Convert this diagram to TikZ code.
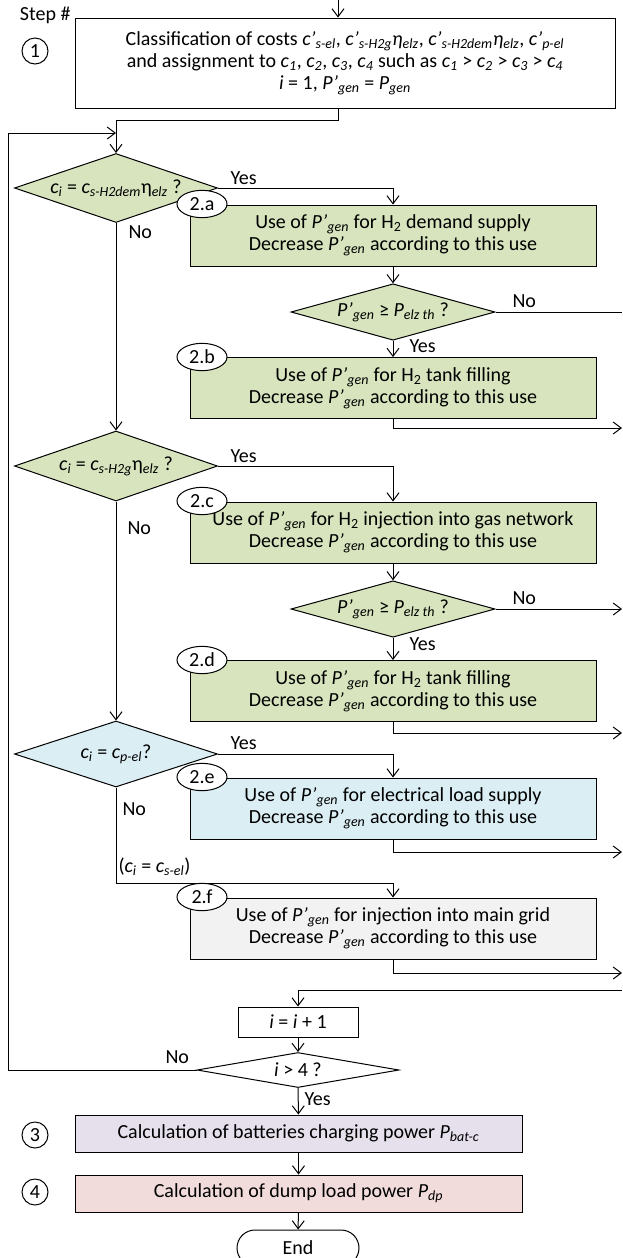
\documentclass[tikz,border=0pt]{standalone}
\usepackage{fontspec}
\setmainfont{Carlito}
\usetikzlibrary{arrows.meta,shapes.geometric,shapes.misc}

\definecolor{greenfill}{RGB}{215,228,189}
\definecolor{bluefill}{RGB}{219,238,244}
\definecolor{greyfill}{RGB}{242,242,242}
\definecolor{lilacfill}{RGB}{229,224,236}
\definecolor{pinkfill}{RGB}{242,220,219}

\newcommand{\Pg}{\textit{P’}\textsubscript{\textit{gen}}}
\newcommand{\vsub}[2]{\textit{#1}\textsubscript{\textit{#2}}}

\tikzset{every picture/.style={line width=0.75pt}}
\tikzset{
  procbox/.style={draw, rectangle, inner sep=0pt, align=center},
  usebox/.style={procbox, minimum width=304.5pt, minimum height=45.75pt},
  testdia/.style={draw, diamond, aspect=3, inner sep=0pt, align=center},
  substep/.style={draw, ellipse, fill=white, minimum width=37.5pt, minimum height=20.5pt, inner sep=0pt},
  stepnum/.style={draw, circle, minimum size=19.5pt, inner sep=0pt},
  lbl/.style={inner sep=0.75pt},
  arr/.style={-{Straight Barb[length=6pt,width=9pt]}},
}

\begin{document}
\begin{tikzpicture}[x=0.75pt,y=0.75pt,yscale=-1,xscale=1,font=\fontsize{15}{16.5}\selectfont]
\useasboundingbox (0,0) rectangle (622,1258);
\clip (0,0) rectangle (622,1258);

% Step 1
\node [lbl, anchor=east] (stephdr) at (72,15) {Step \#};
\node [procbox, minimum width=405pt, minimum height=67.5pt] (init) at (345,63)
  {Classification of costs \vsub{c’}{s-el}, \vsub{c’}{s-H2g}\vsub{η}{elz}, \vsub{c’}{s-H2dem}\vsub{η}{elz}, \vsub{c’}{p-el}\\
   and assignment to \vsub{c}{1}, \vsub{c}{2}, \vsub{c}{3}, \vsub{c}{4} such as \vsub{c}{1} > \vsub{c}{2} > \vsub{c}{3} > \vsub{c}{4}\\
   \textit{i} = 1, \Pg{} = \vsub{P}{gen}};
\node [stepnum] (s1) at (35,51) {1};
\coordinate (start) at (338,0);
\coordinate (merge) at (116,120);
\coordinate (loopc) at (8,133);

% Test H2 demand
\node [testdia, fill=greenfill, minimum width=152.25pt, minimum height=51.75pt] (dtest1) at (116,188)
  {\vsub{c}{i} = \vsub{c}{s-H2dem}η\textsubscript{\textit{elz}} ?};
\node [usebox, fill=greenfill] (u2a) at (393,235.5)
  {Use of \Pg{} for H\textsubscript{2} demand supply\\Decrease \Pg{} according to this use};
\node [substep] (e2a) at (202,204) {2.a};
\node [testdia, fill=greenfill, minimum width=153pt, minimum height=37.5pt] (dthA) at (393,312)
  {\Pg{} ≥ \vsub{P}{elz th} ?};
\node [usebox, fill=greenfill] (u2b) at (393,388)
  {Use of \Pg{} for H\textsubscript{2} tank filling\\Decrease \Pg{} according to this use};
\node [substep] (e2b) at (202,357) {2.b};
\coordinate (outA) at (622,312);
\coordinate (outB) at (622,428);

% Test H2 gas network
\node [testdia, fill=greenfill, minimum width=152.25pt, minimum height=52.5pt] (dtest2) at (116,466)
  {\vsub{c}{i} = \vsub{c}{s-H2g}η\textsubscript{\textit{elz}} ?};
\node [usebox, fill=greenfill] (u2c) at (393,532.5)
  {Use of \Pg{} for H\textsubscript{2} injection into gas network\\Decrease \Pg{} according to this use};
\node [substep] (e2c) at (202,501) {2.c};
\node [testdia, fill=greenfill, minimum width=153pt, minimum height=39pt] (dthC) at (393,609)
  {\Pg{} ≥ \vsub{P}{elz th} ?};
\node [usebox, fill=greenfill] (u2d) at (393,691)
  {Use of \Pg{} for H\textsubscript{2} tank filling\\Decrease \Pg{} according to this use};
\node [substep] (e2d) at (202,660) {2.d};
\coordinate (outC) at (622,609);
\coordinate (outD) at (622,733);

% Test electrical load
\node [testdia, fill=bluefill, minimum width=152.25pt, minimum height=49.5pt] (dtest3) at (116,754)
  {\vsub{c}{i} = \vsub{c}{p-el}?};
\node [usebox, fill=bluefill] (u2e) at (393,808.5)
  {Use of \Pg{} for electrical load supply\\Decrease \Pg{} according to this use};
\node [substep] (e2e) at (202,777) {2.e};
\coordinate (outE) at (622,852);

% Main grid
\coordinate (gridc) at (116,883);
\node [usebox, fill=greyfill] (u2f) at (393,928.5)
  {Use of \Pg{} for injection into main grid\\Decrease \Pg{} according to this use};
\node [substep] (e2f) at (202,897) {2.f};
\coordinate (outF) at (622,973);
\coordinate (back) at (622,990);

% Loop counter
\node [procbox, minimum width=90pt, minimum height=22.5pt] (incr) at (298,1022) {\textit{i} = \textit{i} + 1};
\node [testdia, aspect=5, minimum width=151.5pt, minimum height=26.25pt] (dloop) at (298,1070) {\textit{i} > 4 ?};

% Steps 3 and 4
\node [procbox, fill=lilacfill, minimum width=335.25pt, minimum height=27.75pt] (batt) at (298.5,1133.5)
  {Calculation of batteries charging power \vsub{P}{bat-c}};
\node [stepnum] (s3) at (35,1135) {3};
\node [procbox, fill=pinkfill, minimum width=335.25pt, minimum height=27.75pt] (dump) at (298.5,1193.5)
  {Calculation of dump load power \vsub{P}{dp}};
\node [stepnum] (s4) at (35,1192) {4};
\node [draw, rounded rectangle, minimum width=91.5pt, minimum height=27pt, inner sep=0pt] (fin) at (298,1248) {End};

% Connectors
\draw [arr] (start) -- (start |- init.north);
\draw [arr] (start |- init.south) |- (merge) -- (dtest1);
\draw [arr] (dloop.west) -| (loopc) -- (loopc -| merge);
\draw [arr] (dtest1.east) -| (u2a.north);
\draw [arr] (u2a) -- (dthA);
\draw (dthA.east) -- (outA);
\draw [arr] (dthA) -- (u2b);
\draw [arr] (u2b.south) |- (outB);
\draw [arr] (dtest1) -- (dtest2);
\draw [arr] (dtest2.east) -| (u2c.north);
\draw [arr] (u2c) -- (dthC);
\draw [arr] (dthC.east) -- (outC);
\draw [arr] (dthC) -- (u2d);
\draw [arr] (u2d.south) |- (outD);
\draw [arr] (dtest2) -- (dtest3);
\draw [arr] (dtest3.east) -| (u2e.north);
\draw [arr] (u2e.south) |- (outE);
\draw [arr] (dtest3) -- (gridc) -| (u2f.north);
\draw [arr] (u2f.south) |- (outF);
\draw [arr] (back) -| (incr.north);
\draw [arr] (incr) -- (dloop);
\draw [arr] (dloop) -- (batt);
\draw [arr] (batt) -- (dump);
\draw [arr] (dump) -- (fin);

% Text Node
\node [lbl, anchor=south west] (y1) at (229,186) {Yes};
\node [lbl, anchor=north west] (n1) at (127,224) {No};
\node [lbl, anchor=south west] (nA) at (511,309) {No};
\node [lbl, anchor=north west] (yA) at (408,338) {Yes};
\node [lbl, anchor=south west] (y2) at (229,464) {Yes};
\node [lbl, anchor=north west] (n2) at (126,520) {No};
\node [lbl, anchor=south west] (nC) at (511,606) {No};
\node [lbl, anchor=north west] (yC) at (408,636) {Yes};
\node [lbl, anchor=south west] (y3) at (229,751) {Yes};
\node [lbl, anchor=north west] (n3) at (121,801) {No};
\node [lbl, anchor=west] (celse) at (117,867) {(\vsub{c}{i} = \vsub{c}{s-el})};
\node [lbl, anchor=south west] (n4) at (164,1065) {No};
\node [lbl, anchor=north west] (y4) at (303,1091) {Yes};

\end{tikzpicture}
\end{document}
